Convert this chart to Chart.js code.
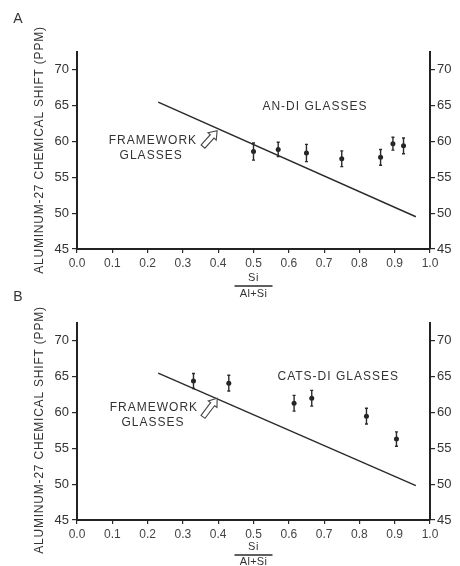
<!DOCTYPE html>
<html>
<head>
<meta charset="utf-8">
<script src="https://cdn.jsdelivr.net/npm/chart.js@4/dist/chart.umd.min.js"></script>
<style>
html, body { margin: 0; padding: 0; background: #fff; }
#wrap { position: relative; width: 460px; height: 566px; overflow: hidden; }
.panel { position: absolute; left: 0; width: 460px; }
#pa { top: 0; height: 300px; }
#pb { top: 283px; height: 283px; }
</style>
</head>
<body>
<div id="wrap">
	<div class="panel" id="pa"><canvas id="chartA" width="460" height="300"></canvas></div>
	<div class="panel" id="pb"><canvas id="chartB" width="460" height="283"></canvas></div>
</div>
<script>
// panel A - An-Di glasses
var xA		= [0.50, 0.57, 0.65, 0.75, 0.86, 0.895, 0.925];
var yA		= [58.6, 58.9, 58.4, 57.6, 57.8, 59.7, 59.4];
var errA	= [1.2, 1.0, 1.2, 1.1, 1.1, 0.9, 1.1];
var lineAx	= [0.23, 0.96];
var lineAy	= [65.5, 49.5];

// panel B - CaTs-Di glasses
var xB		= [0.33, 0.43, 0.615, 0.665, 0.82, 0.905];
var yB		= [64.4, 64.1, 61.3, 62.0, 59.5, 56.3];
var errB	= [1.05, 1.1, 1.1, 1.1, 1.1, 1.0];
var lineBx	= [0.23, 0.96];
var lineBy	= [65.5, 49.8];

// axes
var yTicks	= [45, 50, 55, 60, 65, 70];
var xTicks	= [0.0, 0.1, 0.2, 0.3, 0.4, 0.5, 0.6, 0.7, 0.8, 0.9, 1.0];

var FONT = "'Liberation Sans', Arial, sans-serif";
var INK = '#2a2a2a';

function pts(xs, ys) {
	return xs.map(function(x, i) { return { x: x, y: ys[i] }; });
}

function txt(ctx, s, x, y, size, spacing, align) {
	ctx.save();
	ctx.font = size + 'px ' + FONT;
	ctx.letterSpacing = spacing + 'px';
	ctx.fillStyle = '#333';
	ctx.textAlign = align || 'center';
	ctx.textBaseline = 'middle';
	ctx.fillText(s, x, y);
	ctx.restore();
}

// hollow arrow from tail to tip (pixels)
function hollowArrow(ctx, x0, y0, x1, y1) {
	var dx = x1 - x0, dy = y1 - y0;
	var L = Math.sqrt(dx * dx + dy * dy);
	var sw = 2.5, hw = 5.5, hl = 7.5;
	ctx.save();
	ctx.translate(x0, y0);
	ctx.rotate(Math.atan2(dy, dx));
	ctx.beginPath();
	ctx.moveTo(0, -sw);
	ctx.lineTo(L - hl, -sw);
	ctx.lineTo(L - hl, -hw);
	ctx.lineTo(L, 0);
	ctx.lineTo(L - hl, hw);
	ctx.lineTo(L - hl, sw);
	ctx.lineTo(0, sw);
	ctx.closePath();
	ctx.fillStyle = '#fff';
	ctx.fill();
	ctx.lineWidth = 1.1;
	ctx.strokeStyle = '#444';
	ctx.stroke();
	ctx.restore();
}

var extras = {
	id: 'extras',
	afterDatasetsDraw: function(chart, args, o) {
		var ctx = chart.ctx;
		var sx = chart.scales.x, sy = chart.scales.y;
		var area = chart.chartArea;

		// error bars
		var ds = chart.data.datasets[1];
		ctx.save();
		ctx.strokeStyle = INK;
		ctx.lineWidth = 1.4;
		ds.data.forEach(function(p, i) {
			var px = sx.getPixelForValue(p.x);
			var top = sy.getPixelForValue(p.y + o.err[i]);
			var bot = sy.getPixelForValue(p.y - o.err[i]);
			ctx.beginPath();
			ctx.moveTo(px, top); ctx.lineTo(px, bot);
			ctx.moveTo(px - 1.5, top); ctx.lineTo(px + 1.5, top);
			ctx.moveTo(px - 1.5, bot); ctx.lineTo(px + 1.5, bot);
			ctx.stroke();
		});
		ctx.restore();

		// labels inside the plot
		txt(ctx, o.group[0], sx.getPixelForValue(o.group[1]), sy.getPixelForValue(o.group[2]), 12, 1);
		txt(ctx, 'FRAMEWORK', sx.getPixelForValue(o.fw[0]), sy.getPixelForValue(o.fw[1]), 12, 1);
		txt(ctx, 'GLASSES', sx.getPixelForValue(o.fw[2]), sy.getPixelForValue(o.fw[3]), 12, 1);
		hollowArrow(ctx,
			sx.getPixelForValue(o.arrow[0]), sy.getPixelForValue(o.arrow[1]),
			sx.getPixelForValue(o.arrow[2]), sy.getPixelForValue(o.arrow[3]));

		// y title
		ctx.save();
		ctx.translate(40, o.titleY);
		ctx.rotate(-Math.PI / 2);
		txt(ctx, 'ALUMINUM-27 CHEMICAL SHIFT (PPM)', 0, 0, 12, 0.8);
		ctx.restore();

		// x title: Si over Al+Si
		var cx = sx.getPixelForValue(0.5);
		txt(ctx, 'Si', cx, area.bottom + o.xt[0], 11, 0.5);
		ctx.save();
		ctx.strokeStyle = INK;
		ctx.lineWidth = 1.3;
		ctx.beginPath();
		ctx.moveTo(cx - 19, area.bottom + o.xt[1]);
		ctx.lineTo(cx + 19, area.bottom + o.xt[1]);
		ctx.stroke();
		ctx.restore();
		txt(ctx, 'Al+Si', cx, area.bottom + o.xt[2], 11, 0.3);

		// panel letter
		txt(ctx, o.letter, 18, o.letterY, 14, 0);
	}
};

function makeChart(canvasId, xs, ys, lx, ly, H, top, bottom, opts) {
	var tickFont = { family: FONT, size: 12 };
	var yFont = { family: FONT, size: 13 };
	var yAxis = function(pos, w, pad) {
		return {
			type: 'linear',
			position: pos,
			min: 45,
			max: 72.5,
			afterBuildTicks: function(s) { s.ticks = yTicks.map(function(v) { return { value: v }; }); },
			afterFit: function(s) { s.width = w; },
			grid: { display: true, drawOnChartArea: false, drawTicks: true, tickLength: 5, color: INK, lineWidth: 1.2 },
			border: { display: true, color: '#222', width: 2 },
			ticks: { padding: pad, color: '#333', font: yFont }
		};
	};
	return new Chart(document.getElementById(canvasId), {
		type: 'scatter',
		data: {
			datasets: [{
				data: pts(lx, ly),
				showLine: true,
				pointRadius: 0,
				borderColor: INK,
				borderWidth: 1.4
			}, {
				data: pts(xs, ys),
				pointRadius: 2.5,
				pointBackgroundColor: '#222',
				pointBorderWidth: 0
			}]
		},
		options: {
			responsive: false,
			animation: false,
			layout: { padding: { top: top, left: 0, right: 0, bottom: 0 } },
			plugins: {
				legend: { display: false },
				tooltip: { enabled: false },
				extras: opts
			},
			scales: {
				x: {
					type: 'linear',
					min: 0,
					max: 1,
					afterBuildTicks: function(s) { s.ticks = xTicks.map(function(v) { return { value: v }; }); },
					afterFit: function(s) { s.height = H - bottom; },
					grid: { display: true, drawOnChartArea: false, drawTicks: true, tickLength: 4, color: INK, lineWidth: 1.2 },
					border: { display: true, color: '#222', width: 2 },
					ticks: {
						padding: 3,
						color: '#444',
						font: tickFont,
						maxRotation: 0,
						callback: function(v) { return Number(v).toFixed(1); }
					}
				},
				y: yAxis('left', 77, 3),
				y2: yAxis('right', 30, 2)
			}
		},
		plugins: [extras]
	});
}

makeChart('chartA', xA, yA, lineAx, lineAy, 300, 52, 249, {
	err: errA,
	group: ['AN-DI GLASSES', 0.674, 64.9],
	fw: [0.215, 60.15, 0.21, 58.05],
	arrow: [0.357, 59.3, 0.397, 61.5],
	titleY: 150,
	xt: [29, 37, 45],
	letter: 'A',
	letterY: 19
});

makeChart('chartB', xB, yB, lineBx, lineBy, 283, 40, 237, {
	err: errB,
	group: ['CATS-DI GLASSES', 0.74, 65.0],
	fw: [0.218, 60.7, 0.215, 58.6],
	arrow: [0.357, 59.4, 0.397, 62.0],
	titleY: 147,
	xt: [27, 35, 42],
	letter: 'B',
	letterY: 14
});
</script>
</body>
</html>
